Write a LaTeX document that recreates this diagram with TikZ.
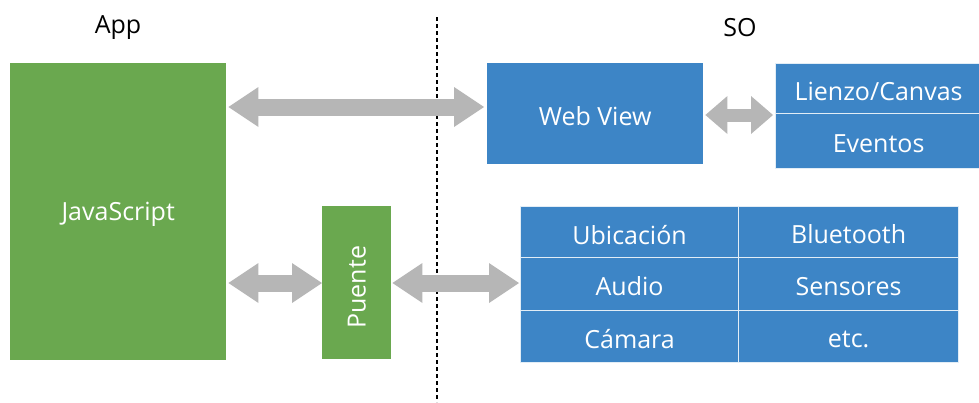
\documentclass[tikz,border=0pt]{standalone}
\usepackage{fontspec}
\setmainfont{Open Sans}
\usetikzlibrary{arrows.meta}
\definecolor{appgreen}{RGB}{106,168,79}
\definecolor{osblue}{RGB}{61,133,198}
\definecolor{linkgray}{RGB}{182,182,182}
\tikzset{
  lbl/.style={font=\fontsize{25}{29}\selectfont, yshift=-2.5pt},
  wlbl/.style={lbl, text=white},
  box/.style={inner sep=0pt, anchor=north west},
  appbox/.style={box, fill=appgreen},
  osbox/.style={box, fill=osblue},
  cell/.style={box, fill=osblue, draw=white!85!osblue, line width=1.2pt},
  bigarrow/.style={draw=linkgray, line width=17pt,
    {Triangle[width=40pt,length=30pt,line width=0pt]}-{Triangle[width=40pt,length=30pt,line width=0pt]}},
  smallarrow/.style={draw=linkgray, line width=13pt,
    {Triangle[width=38pt,length=22pt,line width=0pt]}-{Triangle[width=38pt,length=22pt,line width=0pt]}},
}
\begin{document}
\begin{tikzpicture}[x=1pt,y=-1pt]
\useasboundingbox (0,0) rectangle (979,402);

% section titles and the App / SO boundary
\node[lbl] (app) at (118,25) {App};
\node[lbl] (so) at (740,25) {SO};
\coordinate (sepTop) at (437,17);
\coordinate (sepBot) at (437,402);
\draw[line width=1.2pt, dash pattern=on 4pt off 3pt] (sepTop) -- (sepBot);

% application side
\node[appbox, minimum width=216pt, minimum height=297pt] (js) at (10,63) {};
\node[wlbl] at (js.center) {JavaScript};
\node[appbox, minimum width=69pt, minimum height=153pt] (bridge) at (322,206) {};
\node[wlbl, rotate=90, yshift=0pt, xshift=-2pt] at (bridge.center) {Puente};

% operating-system side
\node[osbox, minimum width=216pt, minimum height=101pt] (wv) at (487,63) {};
\node[wlbl] at (wv.center) {Web View};
\node[cell, minimum width=206pt, minimum height=50pt] (canvas) at (775,63) {};
\node[wlbl] at (canvas.center) {Lienzo/Canvas};
\node[cell, minimum width=206pt, minimum height=55pt] (events) at (775,113) {};
\node[wlbl] at (events.center) {Eventos};

% device services grid
\node[cell, minimum width=218pt, minimum height=51pt] (c11) at (520,206) {};
\node[cell, minimum width=220pt, minimum height=51pt] (c12) at (738,206) {};
\node[cell, minimum width=218pt, minimum height=53pt] (c21) at (520,257) {};
\node[cell, minimum width=220pt, minimum height=53pt] (c22) at (738,257) {};
\node[cell, minimum width=218pt, minimum height=52pt] (c31) at (520,310) {};
\node[cell, minimum width=220pt, minimum height=52pt] (c32) at (738,310) {};
\node[wlbl] at (c11.center) {Ubicación};
\node[wlbl] at (c12.center) {Bluetooth};
\node[wlbl] at (c21.center) {Audio};
\node[wlbl] at (c22.center) {Sensores};
\node[wlbl] at (c31.center) {Cámara};
\node[wlbl] at (c32.center) {etc.};

% links
\draw[bigarrow] ([xshift=2pt]js.east |- 0,107) -- ([xshift=-3pt]wv.west |- 0,107);
\draw[smallarrow] ([xshift=2pt]wv.east |- 0,115) -- ([xshift=-2pt]canvas.west |- 0,115);
\draw[bigarrow] ([xshift=2pt]js.east |- 0,283) -- (bridge.west |- 0,283);
\draw[bigarrow] ([xshift=1pt]bridge.east |- 0,283) -- ([xshift=-1pt]c21.west |- 0,283);
\end{tikzpicture}
\end{document}
